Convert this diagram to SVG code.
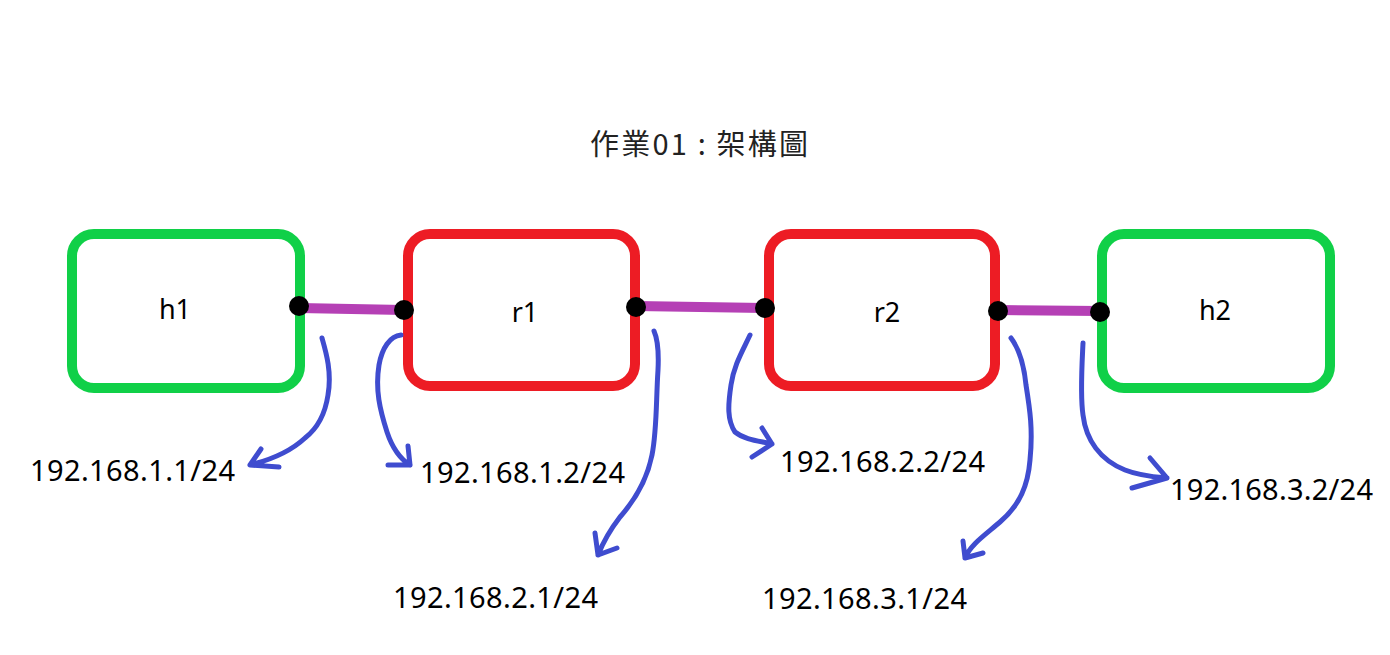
<svg xmlns="http://www.w3.org/2000/svg" width="1390" height="655" viewBox="0 0 1390 655">
<style>
.host{fill:#fff;stroke:#10d048;stroke-width:10}
.router{fill:#fff;stroke:#ed1c24;stroke-width:10}
.lbl{font-family:"Noto Sans","Open Sans","Liberation Sans",sans-serif;font-size:27px;fill:#000;text-anchor:middle}
.ip{font-family:"Noto Sans","Open Sans","Liberation Sans",sans-serif;font-size:29px;fill:#000}
.title{font-family:"Noto Sans CJK TC","Noto Sans",sans-serif;font-size:29px;fill:#222}
.link{stroke:#b540b5;stroke-width:10;fill:none}
.dot{fill:#000}
.pen{stroke:#3f4ccf;stroke-width:5;fill:none;stroke-linecap:round;stroke-linejoin:round}
</style>
<rect width="1390" height="655" fill="#fff"/>
<text class="title" x="590" y="155" textLength="218">作業01 : 架構圖</text>
<g id="connectors">
<path class="link" d="M299 308 L404 310"/>
<path class="link" d="M636 306 L765 308"/>
<path class="link" d="M998 310 L1100 311"/>
</g>
<g id="h1">
<rect class="host" x="72" y="234" width="228" height="154" rx="22"/>
<text class="lbl" x="175" y="319">h1</text>
</g>
<g id="r1">
<rect class="router" x="408" y="234" width="227" height="152" rx="22"/>
<text class="lbl" x="525" y="322">r1</text>
</g>
<g id="r2">
<rect class="router" x="769" y="234" width="226" height="152" rx="22"/>
<text class="lbl" x="887" y="322">r2</text>
</g>
<g id="h2">
<rect class="host" x="1102" y="234" width="228" height="154" rx="22"/>
<text class="lbl" x="1215" y="320">h2</text>
</g>
<g id="ports">
<circle class="dot" cx="299" cy="306" r="10"/>
<circle class="dot" cx="404" cy="310" r="10"/>
<circle class="dot" cx="636" cy="307" r="10"/>
<circle class="dot" cx="765" cy="308" r="10"/>
<circle class="dot" cx="998" cy="311" r="10"/>
<circle class="dot" cx="1100" cy="312" r="10"/>
</g>
<g id="annotations">
<path class="pen" d="M322 338 C326 352 332 372 328 395 C325 415 318 428 305 438 C290 452 270 460 250 465 M261 449 L250 465 L279 467"/>
<path class="pen" d="M401 335 C390 336 382 348 379 365 C375 390 380 410 387 432 C393 450 402 460 410 465 M408 446 L410 465 L388 465"/>
<path class="pen" d="M654 331 C658 340 659 350 658 370 C656 400 657 430 652 455 C647 480 635 500 620 517 C610 530 602 545 598 555 M595 533 L598 555 L617 548"/>
<path class="pen" d="M750 335 C742 352 734 365 731 385 C728 405 727 420 735 432 C745 440 760 441 772 444 M762 428 L772 444 L752 457"/>
<path class="pen" d="M1011 338 C1020 350 1024 365 1026 385 C1030 410 1033 430 1030 460 C1028 485 1020 505 1000 522 C985 535 970 545 965 558 M963 541 L965 558 L983 553"/>
<path class="pen" d="M1083 343 C1082 365 1080 395 1083 415 C1086 440 1100 460 1125 470 C1140 476 1155 477 1167 478 M1150 458 L1167 478 L1132 488"/>
</g>
<g id="labels">
<text class="ip" x="30" y="481" textLength="205">192.168.1.1/24</text>
<text class="ip" x="420" y="483" textLength="205">192.168.1.2/24</text>
<text class="ip" x="393" y="608" textLength="205">192.168.2.1/24</text>
<text class="ip" x="780" y="472" textLength="205">192.168.2.2/24</text>
<text class="ip" x="762" y="609" textLength="205">192.168.3.1/24</text>
<text class="ip" x="1170" y="500" textLength="203">192.168.3.2/24</text>
</g>
</svg>
